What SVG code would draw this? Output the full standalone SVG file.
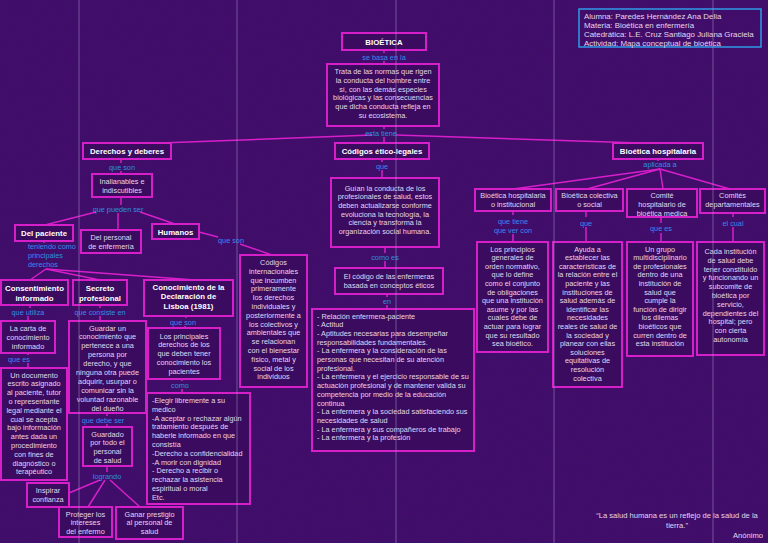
<svg xmlns="http://www.w3.org/2000/svg" width="768" height="543" viewBox="0 0 768 543">
<defs>
<style>
.bx{fill:#3a0b5e;stroke:#d61fc9;stroke-width:2}
.ib{fill:none;stroke:#2f9be6;stroke-width:1.5}
.t{font-family:"Liberation Sans",Arial,sans-serif;font-size:7.3px;fill:#e2d8ee;text-anchor:middle}
.tl{font-family:"Liberation Sans",Arial,sans-serif;font-size:7.3px;fill:#e2d8ee}
.b{font-family:"Liberation Sans",Arial,sans-serif;font-size:7.8px;font-weight:bold;fill:#ffffff;text-anchor:middle}
.l{font-family:"Liberation Sans",Arial,sans-serif;font-size:7.3px;fill:#2f8ee6;text-anchor:middle}
.c line{stroke:#d61fc9;stroke-width:1.5}
.v{stroke:#a48bc8;stroke-width:1;opacity:0.55}
</style>
<filter id="noise" x="0" y="0" width="100%" height="100%">
<feTurbulence type="fractalNoise" baseFrequency="0.8" numOctaves="2" seed="4"/>
<feColorMatrix type="matrix" values="0 0 0 0 0.1  0 0 0 0 0  0 0 0 0 0.25  0 0 0 0.9 -0.35"/>
</filter>
</defs>
<rect width="768" height="543" fill="#3f0f68"/>
<rect width="768" height="543" filter="url(#noise)" opacity="0.6"/>

<g class="c" id="connectors">
<line x1="384" y1="50" x2="384" y2="53"/>
<line x1="384" y1="61" x2="384" y2="64"/>
<line x1="384" y1="126" x2="384" y2="129"/>
<line x1="372" y1="135" x2="160" y2="143"/>
<line x1="396" y1="135" x2="640" y2="143"/>
<line x1="384" y1="137" x2="384" y2="143"/>
<line x1="382" y1="159" x2="382" y2="162"/>
<line x1="382" y1="170" x2="382" y2="178"/>
<line x1="385" y1="247" x2="385" y2="253"/>
<line x1="385" y1="261" x2="385" y2="268"/>
<line x1="387" y1="294" x2="387" y2="297"/>
<line x1="387" y1="305" x2="387" y2="309"/>
<line x1="121" y1="159" x2="121" y2="163"/>
<line x1="121" y1="171" x2="121" y2="174"/>
<line x1="121" y1="197" x2="121" y2="205"/>
<line x1="96" y1="212" x2="45" y2="225"/>
<line x1="118" y1="213" x2="118" y2="230"/>
<line x1="140" y1="212" x2="175" y2="224"/>
<line x1="199" y1="232" x2="218" y2="237"/>
<line x1="240" y1="244" x2="272" y2="255"/>
<line x1="44" y1="241" x2="44" y2="243"/>
<line x1="46" y1="269" x2="30" y2="280"/>
<line x1="46" y1="269" x2="100" y2="280"/>
<line x1="46" y1="269" x2="195" y2="280"/>
<line x1="30" y1="305" x2="30" y2="308"/>
<line x1="28" y1="316" x2="28" y2="321"/>
<line x1="28" y1="353" x2="28" y2="355"/>
<line x1="28" y1="363" x2="28" y2="368"/>
<line x1="100" y1="305" x2="100" y2="308"/>
<line x1="100" y1="316" x2="100" y2="321"/>
<line x1="107" y1="413" x2="107" y2="416"/>
<line x1="107" y1="424" x2="107" y2="427"/>
<line x1="107" y1="466" x2="107" y2="472"/>
<line x1="100" y1="480" x2="69" y2="493"/>
<line x1="105" y1="480" x2="88" y2="507"/>
<line x1="110" y1="480" x2="140" y2="507"/>
<line x1="186" y1="316" x2="186" y2="318"/>
<line x1="185" y1="326" x2="185" y2="328"/>
<line x1="182" y1="379" x2="182" y2="381"/>
<line x1="182" y1="389" x2="182" y2="393"/>
<line x1="658" y1="159" x2="658" y2="161"/>
<line x1="660" y1="169" x2="513" y2="189"/>
<line x1="660" y1="169" x2="587" y2="189"/>
<line x1="660" y1="169" x2="663" y2="189"/>
<line x1="660" y1="169" x2="730" y2="189"/>
<line x1="513" y1="211" x2="513" y2="215"/>
<line x1="513" y1="234" x2="513" y2="242"/>
<line x1="586" y1="211" x2="586" y2="217"/>
<line x1="586" y1="227" x2="586" y2="242"/>
<line x1="661" y1="217" x2="661" y2="223"/>
<line x1="661" y1="233" x2="661" y2="242"/>
<line x1="733" y1="213" x2="733" y2="217"/>
<line x1="733" y1="227" x2="733" y2="242"/>
</g>

<g id="bioetica"><rect class="bx" x="342" y="33" width="84" height="17"/><text class="b" x="384" y="44.5">BIOÉTICA</text></g>
<text class="l" x="384" y="59.5">se basa en la</text>
<g id="trata"><rect class="bx" x="327" y="64" width="112" height="62"/>
<text class="t"><tspan x="383" y="74">Trata de las normas que rigen</tspan><tspan x="383" y="82.8">la conducta del hombre entre</tspan><tspan x="383" y="91.6">sí, con las demás especies</tspan><tspan x="383" y="100.4">biológicas y las consecuencias</tspan><tspan x="383" y="109.2">que dicha conducta refleja en</tspan><tspan x="383" y="118">su ecosistema.</tspan></text></g>
<text class="l" x="381" y="135.5">esta tiene</text>

<g id="codigos"><rect class="bx" x="335" y="143" width="94" height="16"/><text class="b" x="382" y="154">Códigos ético-legales</text></g>
<text class="l" x="382" y="168.5">que</text>
<g id="guian"><rect class="bx" x="331" y="178" width="108" height="69"/>
<text class="t"><tspan x="385" y="190.5">Guían la conducta de los</tspan><tspan x="385" y="199.2">profesionales de salud, estos</tspan><tspan x="385" y="207.9">deben actualizarse conforme</tspan><tspan x="385" y="216.6">evoluciona la tecnología, la</tspan><tspan x="385" y="225.3">ciencia y transforma la</tspan><tspan x="385" y="234">organización social humana.</tspan></text></g>
<text class="l" x="385" y="259.5">como es</text>
<g id="codigo-enf"><rect class="bx" x="335" y="268" width="108" height="26"/>
<text class="t"><tspan x="389" y="278.5">El código de las enfermeras</tspan><tspan x="389" y="287.5">basada en conceptos éticos</tspan></text></g>
<text class="l" x="387" y="303.5">en</text>
<g id="lista"><rect class="bx" x="312" y="309" width="162" height="142"/>
<text class="tl"><tspan x="317" y="318.5">- Relación enfermera-paciente</tspan><tspan x="317" y="327.2">- Actitud</tspan><tspan x="317" y="335.9">- Aptitudes necesarias para desempeñar</tspan><tspan x="317" y="344.6">responsabilidades fundamentales.</tspan><tspan x="317" y="353.3">- La enfermera y la consideración de las</tspan><tspan x="317" y="362">personas que necesitan de su atención</tspan><tspan x="317" y="370.7">profesional.</tspan><tspan x="317" y="379.4">- La enfermera y el ejercicio responsable de su</tspan><tspan x="317" y="388.1">actuación profesional y de mantener valida su</tspan><tspan x="317" y="396.8">competencia por medio de la educación</tspan><tspan x="317" y="405.5">continua</tspan><tspan x="317" y="414.2">- La enfermera y la sociedad satisfaciendo sus</tspan><tspan x="317" y="422.9">necesidades de salud</tspan><tspan x="317" y="431.6">- La enfermera y sus compañeros de trabajo</tspan><tspan x="317" y="440.3">- La enfermera y la profesión</tspan></text></g>

<g id="derechos"><rect class="bx" x="83" y="143" width="88" height="16"/><text class="b" x="127" y="154">Derechos y deberes</text></g>
<text class="l" x="122" y="169.5">que son</text>
<g id="inalianables"><rect class="bx" x="92" y="174" width="60" height="23"/>
<text class="t"><tspan x="122" y="184">Inalianables e</tspan><tspan x="122" y="193">indiscutibles</tspan></text></g>
<text class="l" x="118" y="211.5">que pueden ser</text>
<g id="del-paciente"><rect class="bx" x="15" y="225" width="58" height="16"/><text class="b" x="44" y="236">Del paciente</text></g>
<g id="del-personal"><rect class="bx" x="81" y="230" width="60" height="23"/>
<text class="t"><tspan x="111" y="239.5">Del personal</tspan><tspan x="111" y="248.5">de enfermería</tspan></text></g>
<g id="humanos"><rect class="bx" x="152" y="224" width="47" height="15"/><text class="b" x="175.5" y="234.5">Humanos</text></g>
<text class="l" x="231" y="243">que son</text>
<text class="l" style="text-anchor:start"><tspan x="28" y="249">teniendo como</tspan><tspan x="28" y="258">principales</tspan><tspan x="28" y="267">derechos</tspan></text>

<g id="cod-int"><rect class="bx" x="240" y="255" width="67" height="132"/>
<text class="t"><tspan x="273.5" y="265">Códigos</tspan><tspan x="273.5" y="273.8">internacionales</tspan><tspan x="273.5" y="282.6">que incumben</tspan><tspan x="273.5" y="291.4">primeramente</tspan><tspan x="273.5" y="300.2">los derechos</tspan><tspan x="273.5" y="309">individuales y</tspan><tspan x="273.5" y="317.8">posteriormente a</tspan><tspan x="273.5" y="326.6">los colectivos y</tspan><tspan x="273.5" y="335.4">ambientales que</tspan><tspan x="273.5" y="344.2">se relacionan</tspan><tspan x="273.5" y="353">con el bienestar</tspan><tspan x="273.5" y="361.8">físico, metal y</tspan><tspan x="273.5" y="370.6">social de los</tspan><tspan x="273.5" y="379.4">individuos</tspan></text></g>

<g id="consentimiento"><rect class="bx" x="1" y="280" width="67" height="25"/>
<text class="b"><tspan x="34.5" y="290.5">Consentimiento</tspan><tspan x="34.5" y="300.5">informado</tspan></text></g>
<text class="l" x="28" y="314.5">que utiliza</text>
<g id="carta"><rect class="bx" x="1" y="321" width="54" height="32"/>
<text class="t"><tspan x="28" y="330.5">La carta de</tspan><tspan x="28" y="339.5">conocimiento</tspan><tspan x="28" y="348.5">informado</tspan></text></g>
<text class="l" x="19" y="361.5">que es</text>
<g id="documento"><rect class="bx" x="1" y="368" width="66" height="112"/>
<text class="t"><tspan x="34" y="377.5">Un documento</tspan><tspan x="34" y="386.3">escrito asignado</tspan><tspan x="34" y="395.1">al paciente, tutor</tspan><tspan x="34" y="403.9">o representante</tspan><tspan x="34" y="412.7">legal mediante el</tspan><tspan x="34" y="421.5">cual se acepta</tspan><tspan x="34" y="430.3">bajo información</tspan><tspan x="34" y="439.1">antes dada un</tspan><tspan x="34" y="447.9">procedimiento</tspan><tspan x="34" y="456.7">con fines de</tspan><tspan x="34" y="465.5">diagnóstico o</tspan><tspan x="34" y="474.3">terapéutico</tspan></text></g>

<g id="secreto"><rect class="bx" x="73" y="280" width="54" height="25"/>
<text class="b"><tspan x="100" y="290.5">Secreto</tspan><tspan x="100" y="300.5">profesional</tspan></text></g>
<text class="l" x="100" y="314.5">que consiste en</text>
<g id="guardar"><rect class="bx" x="69" y="321" width="77" height="92"/>
<text class="t"><tspan x="107.5" y="330.5">Guardar un</tspan><tspan x="107.5" y="339.4">conocimiento que</tspan><tspan x="107.5" y="348.3">pertenece a una</tspan><tspan x="107.5" y="357.2">persona por</tspan><tspan x="107.5" y="366.1">derecho, y que</tspan><tspan x="107.5" y="375">ninguna otra puede</tspan><tspan x="107.5" y="383.9">adquirir, usurpar o</tspan><tspan x="107.5" y="392.8">comunicar sin la</tspan><tspan x="107.5" y="401.7">voluntad razonable</tspan><tspan x="107.5" y="410.6">del dueño</tspan></text></g>
<text class="l" x="103" y="422.5">que debe ser</text>
<g id="guardado"><rect class="bx" x="83" y="427" width="49" height="39"/>
<text class="t"><tspan x="107.5" y="436.5">Guardado</tspan><tspan x="107.5" y="445.3">por todo el</tspan><tspan x="107.5" y="454.1">personal</tspan><tspan x="107.5" y="462.9">de salud</tspan></text></g>
<text class="l" x="107" y="478.5">logrando</text>
<g id="inspirar"><rect class="bx" x="27" y="483" width="42" height="24"/>
<text class="t"><tspan x="48" y="493">Inspirar</tspan><tspan x="48" y="502">confianza</tspan></text></g>
<g id="proteger"><rect class="bx" x="59" y="507" width="53" height="30"/>
<text class="t"><tspan x="85.5" y="516.5">Proteger los</tspan><tspan x="85.5" y="525.3">intereses</tspan><tspan x="85.5" y="534.1">del enfermo</tspan></text></g>
<g id="ganar"><rect class="bx" x="116" y="507" width="67" height="32"/>
<text class="t"><tspan x="149.5" y="516.5">Ganar prestigio</tspan><tspan x="149.5" y="525.3">al personal de</tspan><tspan x="149.5" y="534.1">salud</tspan></text></g>

<g id="lisboa"><rect class="bx" x="144" y="280" width="89" height="36"/>
<text class="b"><tspan x="188.5" y="289.5">Conocimiento de la</tspan><tspan x="188.5" y="299.3">Declaración de</tspan><tspan x="188.5" y="309.1">Lisboa (1981)</tspan></text></g>
<text class="l" x="183" y="324.5">que son</text>
<g id="principales"><rect class="bx" x="148" y="328" width="72" height="51"/>
<text class="t"><tspan x="184" y="338.5">Los principales</tspan><tspan x="184" y="347.3">derechos de los</tspan><tspan x="184" y="356.1">que deben tener</tspan><tspan x="184" y="364.9">conocimiento los</tspan><tspan x="184" y="373.7">pacientes</tspan></text></g>
<text class="l" x="180" y="387.5">como</text>
<g id="elegir"><rect class="bx" x="147" y="393" width="103" height="111"/>
<text class="tl"><tspan x="152" y="403">-Elegir libremente a su</tspan><tspan x="152" y="411.8">medico</tspan><tspan x="152" y="420.6">-A aceptar o rechazar algún</tspan><tspan x="152" y="429.4">tratamiento después de</tspan><tspan x="152" y="438.2">haberle informado en que</tspan><tspan x="152" y="447">consistía</tspan><tspan x="152" y="455.8">-Derecho a confidencialidad</tspan><tspan x="152" y="464.6">-A morir con dignidad</tspan><tspan x="152" y="473.4">- Derecho a recibir o</tspan><tspan x="152" y="482.2">rechazar la asistencia</tspan><tspan x="152" y="491">espiritual o moral</tspan><tspan x="152" y="499.8">Etc.</tspan></text></g>

<g id="bio-hosp"><rect class="bx" x="613" y="143" width="90" height="16"/><text class="b" x="658" y="154">Bioética hospitalaria</text></g>
<text class="l" x="660" y="167">aplicada a</text>
<g id="bio-inst"><rect class="bx" x="475" y="189" width="76" height="22"/>
<text class="t"><tspan x="513" y="197.5">Bioética hospitalaria</tspan><tspan x="513" y="206.5">o institucional</tspan></text></g>
<g id="bio-col"><rect class="bx" x="556" y="189" width="67" height="22"/>
<text class="t"><tspan x="589.5" y="197.5">Bioética colectiva</tspan><tspan x="589.5" y="206.5">o social</tspan></text></g>
<g id="comite"><rect class="bx" x="627" y="189" width="70" height="28"/>
<text class="t"><tspan x="662" y="197.5">Comité</tspan><tspan x="662" y="206.5">hospitalario de</tspan><tspan x="662" y="215.5">bioética medica</tspan></text></g>
<g id="comites"><rect class="bx" x="700" y="189" width="65" height="24"/>
<text class="t"><tspan x="732.5" y="197.5">Comités</tspan><tspan x="732.5" y="206.5">departamentales</tspan></text></g>
<text class="l"><tspan x="513" y="223.5">que tiene</tspan><tspan x="513" y="232.5">que ver con</tspan></text>
<text class="l" x="586" y="225.5">que</text>
<text class="l" x="661" y="231">que es</text>
<text class="l" x="733" y="225.5">el cual</text>

<g id="principios"><rect class="bx" x="477" y="242" width="71" height="110"/>
<text class="t"><tspan x="512.5" y="251.5">Los principios</tspan><tspan x="512.5" y="260.1">generales de</tspan><tspan x="512.5" y="268.7">orden normativo,</tspan><tspan x="512.5" y="277.3">que lo define</tspan><tspan x="512.5" y="285.9">como el conjunto</tspan><tspan x="512.5" y="294.5">de obligaciones</tspan><tspan x="512.5" y="303.1">que una institución</tspan><tspan x="512.5" y="311.7">asume y por las</tspan><tspan x="512.5" y="320.3">cuales debe de</tspan><tspan x="512.5" y="328.9">actuar para lograr</tspan><tspan x="512.5" y="337.5">que su resultado</tspan><tspan x="512.5" y="346.1">sea bioético.</tspan></text></g>
<g id="ayuda"><rect class="bx" x="553" y="242" width="69" height="145"/>
<text class="t"><tspan x="587.5" y="251.5">Ayuda a</tspan><tspan x="587.5" y="260.1">establecer las</tspan><tspan x="587.5" y="268.7">características de</tspan><tspan x="587.5" y="277.3">la relación entre el</tspan><tspan x="587.5" y="285.9">paciente y las</tspan><tspan x="587.5" y="294.5">instituciones de</tspan><tspan x="587.5" y="303.1">salud además de</tspan><tspan x="587.5" y="311.7">identificar las</tspan><tspan x="587.5" y="320.3">necesidades</tspan><tspan x="587.5" y="328.9">reales de salud de</tspan><tspan x="587.5" y="337.5">la sociedad  y</tspan><tspan x="587.5" y="346.1">planear con ellas</tspan><tspan x="587.5" y="354.7">soluciones</tspan><tspan x="587.5" y="363.3">equitativas de</tspan><tspan x="587.5" y="371.9">resolución</tspan><tspan x="587.5" y="380.5">colectiva</tspan></text></g>
<g id="grupo"><rect class="bx" x="627" y="242" width="66" height="114"/>
<text class="t"><tspan x="660" y="251.5">Un grupo</tspan><tspan x="660" y="260.1">multidisciplinario</tspan><tspan x="660" y="268.7">de profesionales</tspan><tspan x="660" y="277.3">dentro de una</tspan><tspan x="660" y="285.9">institución de</tspan><tspan x="660" y="294.5">salud que</tspan><tspan x="660" y="303.1">cumple la</tspan><tspan x="660" y="311.7">función de dirigir</tspan><tspan x="660" y="320.3">los dilemas</tspan><tspan x="660" y="328.9">bioéticos que</tspan><tspan x="660" y="337.5">curren dentro de</tspan><tspan x="660" y="346.1">esta institución</tspan></text></g>
<g id="cada"><rect class="bx" x="697" y="242" width="67" height="113"/>
<text class="t"><tspan x="730.5" y="254">Cada institución</tspan><tspan x="730.5" y="262.8">de salud debe</tspan><tspan x="730.5" y="271.6">tener constituido</tspan><tspan x="730.5" y="280.4">y funcionando un</tspan><tspan x="730.5" y="289.2">subcomite de</tspan><tspan x="730.5" y="298">bioética por</tspan><tspan x="730.5" y="306.8">servicio,</tspan><tspan x="730.5" y="315.6">dependientes del</tspan><tspan x="730.5" y="324.4">hospital; pero</tspan><tspan x="730.5" y="333.2">con cierta</tspan><tspan x="730.5" y="342">autonomía</tspan></text></g>

<g id="info"><rect class="ib" x="579" y="9" width="182" height="38"/>
<text class="tl" style="font-size:7.9px"><tspan x="584" y="18.5">Alumna: Paredes Hernández Ana Delia</tspan><tspan x="584" y="27.5">Materia: Bioética en enfermería</tspan><tspan x="584" y="36.5">Catedrática: L.E. Cruz Santiago Juliana Graciela</tspan><tspan x="584" y="45.5">Actividad: Mapa conceptual de bioética</tspan></text></g>

<g id="quote">
<text class="t" x="677" y="517.5" style="font-size:7.6px">“La salud humana es un reflejo de la salud de la</text>
<text class="t" x="677" y="528" style="font-size:7.6px">tierra.”</text>
<text class="tl" x="763" y="537.5" style="text-anchor:end;font-size:7.6px">Anónimo</text>
</g>

<g id="grid">
<line class="v" x1="79" y1="0" x2="79" y2="543"/>
<line class="v" x1="237" y1="0" x2="237" y2="543"/>
<line class="v" x1="396" y1="0" x2="396" y2="543"/>
<line class="v" x1="554" y1="0" x2="554" y2="543"/>
<line class="v" x1="713" y1="0" x2="713" y2="543"/>
</g>
</svg>
